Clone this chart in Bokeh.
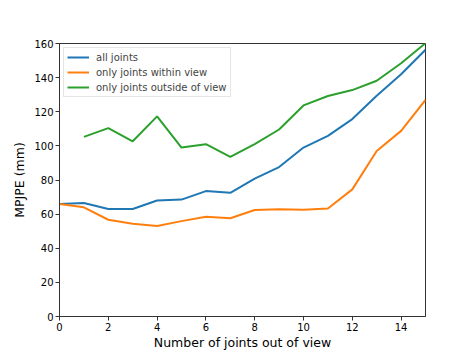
from bokeh.plotting import figure
from bokeh.embed import file_html
from bokeh.resources import INLINE
from bokeh.models import Range1d, FixedTicker, Legend, LegendItem

x_all = list(range(0, 16))
all_joints = [66, 66.5, 63, 63, 68, 68.5, 73.5, 72.5, 80.8, 87.6, 99, 105.9, 115.7, 129.4, 142, 156.3]
within_view = [66, 64, 56.7, 54.3, 53.1, 55.9, 58.4, 57.6, 62.4, 62.9, 62.5, 63.3, 74.5, 97, 108.8, 126.9]
x_out = list(range(1, 16))
outside_view = [105.3, 110.4, 102.7, 117.3, 99, 101, 93.5, 101, 109.6, 123.7, 129.2, 132.7, 138.2, 148.4, 160.2]

x_ticks = [0, 2, 4, 6, 8, 10, 12, 14]
y_ticks = [0, 20, 40, 60, 80, 100, 120, 140, 160]

FONT = "DejaVu Sans"

p = figure(frame_width=366, frame_height=273, output_backend="svg", toolbar_location=None,
           x_range=Range1d(0, 15), y_range=Range1d(0, 160),
           min_border_left=59, min_border_right=20, min_border_top=43, min_border_bottom=20)

p.background_fill_color = "white"
p.border_fill_color = "white"
p.outline_line_color = "#333333"
p.outline_line_width = 1
p.xgrid.visible = False
p.ygrid.visible = False

for ax in (p.xaxis[0], p.yaxis[0]):
    ax.major_tick_in = 0
    ax.major_tick_out = 4
    ax.minor_tick_line_color = None
    ax.axis_line_color = "#333333"
    ax.major_tick_line_color = "#333333"
    ax.major_label_text_font = FONT
    ax.major_label_text_font_size = "10px"
    ax.major_label_text_color = "black"
    ax.axis_label_text_font = FONT
    ax.axis_label_text_font_size = "12.5px"
    ax.axis_label_text_font_style = "normal"
    ax.axis_label_text_color = "black"

p.xaxis.ticker = FixedTicker(ticks=x_ticks)
p.yaxis.ticker = FixedTicker(ticks=y_ticks)
p.xaxis.axis_label = "Number of joints out of view"
p.yaxis.axis_label = "MPJPE (mm)"
p.xaxis.axis_label_standoff = 1
p.yaxis.axis_label_standoff = 4
p.xaxis.major_label_standoff = 2
p.yaxis.major_label_standoff = 2

r1 = p.line(x_all, all_joints, line_color="#1f77b4", line_width=2)
r2 = p.line(x_all, within_view, line_color="#ff7f0e", line_width=2)
r3 = p.line(x_out, outside_view, line_color="#2ca02c", line_width=2)

legend = Legend(items=[
    LegendItem(label="all joints", renderers=[r1]),
    LegendItem(label="only joints within view", renderers=[r2]),
    LegendItem(label="only joints outside of view", renderers=[r3]),
], location="top_left")
legend.label_text_font = FONT
legend.label_text_font_size = "10px"
legend.label_height = 12
legend.glyph_height = 12
legend.glyph_width = 22
legend.spacing = 3
legend.padding = 3
legend.margin = 4
legend.border_line_color = "#cccccc"
legend.border_line_width = 1
legend.background_fill_alpha = 0.8
legend.label_standoff = 7
p.add_layout(legend)

open("out.html", "w").write(file_html(p, INLINE))
